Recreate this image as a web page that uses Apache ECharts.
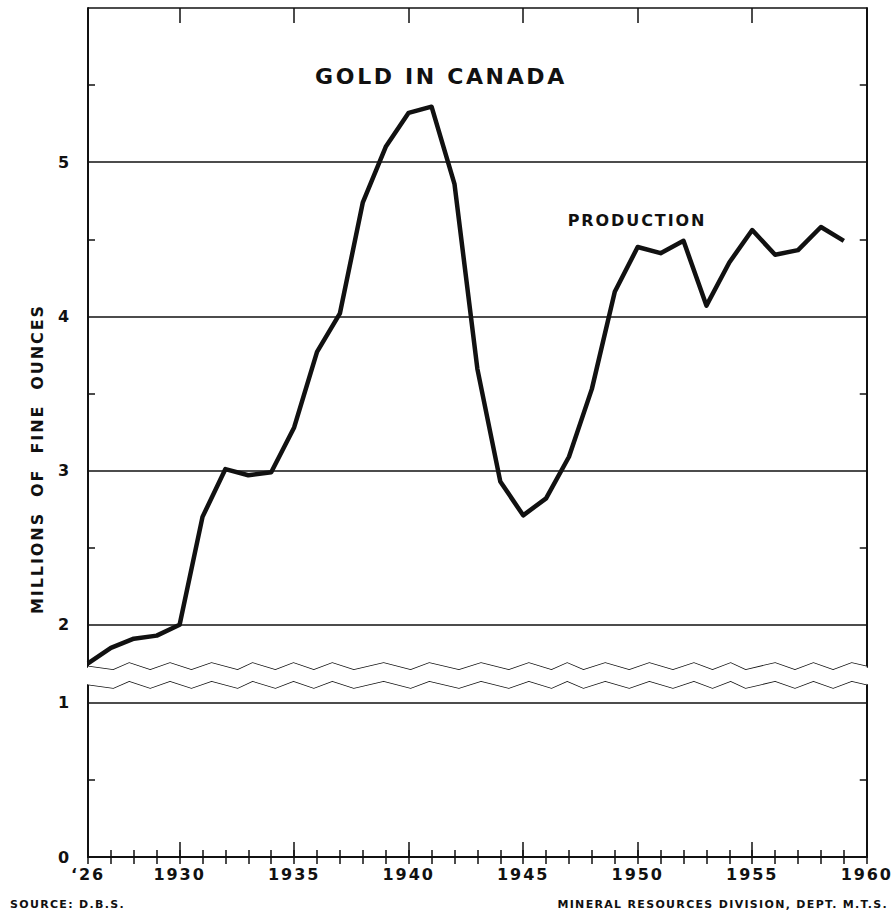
<!DOCTYPE html>
<html>
<head>
<meta charset="utf-8">
<title>Gold in Canada</title>
<script src="https://cdn.jsdelivr.net/npm/echarts@6.0.0/dist/echarts.min.js"></script>
<style>
  html, body { margin: 0; padding: 0; background: #fff; }
  #chart { width: 892px; height: 913px; }
  /* the hand lettering on the original is widely spaced */
  #chart text { letter-spacing: 0.12em; }
</style>
</head>
<body>
<div id="chart"></div>
<script>
var years = [1926, 1927, 1928, 1929, 1930, 1931, 1932, 1933, 1934, 1935,
             1936, 1937, 1938, 1939, 1940, 1941, 1942, 1943, 1944, 1945,
             1946, 1947, 1948, 1949, 1950, 1951, 1952, 1953, 1954, 1955,
             1956, 1957, 1958, 1959];
// millions of fine ounces
var production = [1.75, 1.85, 1.91, 1.93, 2.00, 2.70, 3.01, 2.97, 2.99, 3.28,
                  3.77, 4.02, 4.74, 5.10, 5.32, 5.36, 4.86, 3.66, 2.93, 2.71,
                  2.82, 3.09, 3.53, 4.16, 4.45, 4.41, 4.49, 4.07, 4.35, 4.56,
                  4.40, 4.43, 4.58, 4.49];
var labelYears = [1926, 1930, 1935, 1940, 1945, 1950, 1955, 1960];
var majorYears = [1930, 1935, 1940, 1945, 1950, 1955, 1960];
var yLabels = [0, 1, 2, 3, 4, 5];
var yLines = [0, 1, 2, 3, 4, 5, 6];
var yHalfTicks = [0.5, 2.5, 3.5, 4.5, 5.5];

var allYears = years.concat([1960]);
var ink = '#111';
var font = 'DejaVu Sans';

var myChart = echarts.init(document.getElementById('chart'), null, { renderer: 'svg' });

function xAx(pos, ticks, len, withLine, withLabels) {
    return {
        type: 'value',
        position: pos,
        min: 1926,
        max: 1960,
        axisLine: { show: withLine, lineStyle: { color: ink, width: 2 } },
        axisTick: { show: true, inside: true, length: len, customValues: ticks,
                    lineStyle: { color: ink, width: 1.5 } },
        axisLabel: withLabels ? {
            customValues: labelYears,
            margin: 9,
            color: ink,
            fontFamily: font,
            fontWeight: 'bold',
            fontSize: 16,
            formatter: function (v) { return v === 1926 ? '\u201826' : String(v); }
        } : { show: false },
        splitLine: { show: false }
    };
}

var yBreaks = [{ start: 1.12, end: 1.73, gap: '2.1%' }];

// main: labels + grid lines; otherwise only the half-unit ticks
function yAx(pos, main, withLine) {
    return {
        type: 'value',
        position: pos,
        min: 0,
        max: 6,
        interval: 1,
        breaks: yBreaks,
        breakArea: {
            show: main,
            expandOnClick: false,
            zigzagAmplitude: 3.5,
            zigzagMinSpan: 14,
            zigzagMaxSpan: 30,
            itemStyle: { color: '#fff', borderColor: ink, borderWidth: 1.5, borderType: 'solid', opacity: 1 }
        },
        axisLine: { show: withLine, lineStyle: { color: ink, width: 2 } },
        axisTick: main ? { show: false, customValues: yLines }
                       : { show: true, inside: true, length: 7, customValues: yHalfTicks,
                           lineStyle: { color: ink, width: 1.5 } },
        axisLabel: main ? {
            customValues: yLabels,
            margin: 17,
            color: ink,
            fontFamily: font,
            fontWeight: 'bold',
            fontSize: 16
        } : { show: false },
        splitLine: { show: main, lineStyle: { color: ink, width: 1.5 } }
    };
}

var option = {
    backgroundColor: '#fff',
    animation: false,
    grid: { left: 88, right: 25, top: 8, bottom: 56 },
    xAxis: [
        xAx('bottom', allYears, 7, true, true),
        xAx('bottom', majorYears, 15, false, false),
        xAx('top', allYears, 7, true, false),
        xAx('top', majorYears, 15, false, false)
    ],
    yAxis: [
        yAx('left', true, true),
        yAx('left', false, false),
        yAx('right', false, true)
    ],
    graphic: [
        { type: 'text', x: 441, y: 76, style: { text: 'GOLD IN CANADA', fill: ink,
            font: 'bold 22px "DejaVu Sans"', textAlign: 'center', textVerticalAlign: 'middle' } },
        { type: 'text', x: 637, y: 220, style: { text: 'PRODUCTION', fill: ink,
            font: 'bold 16px "DejaVu Sans"', textAlign: 'center', textVerticalAlign: 'middle' } },
        { type: 'text', x: 37, y: 459, rotation: Math.PI / 2, style: { text: 'MILLIONS  OF  FINE  OUNCES', fill: ink,
            font: 'bold 16px "DejaVu Sans"', textAlign: 'center', textVerticalAlign: 'middle' } },
        { type: 'text', x: 10, y: 904, style: { text: 'SOURCE: D.B.S.', fill: ink,
            font: 'bold 11px "DejaVu Sans"', textAlign: 'left', textVerticalAlign: 'middle' } },
        { type: 'text', x: 888, y: 904, style: { text: 'MINERAL RESOURCES DIVISION, DEPT. M.T.S.', fill: ink,
            font: 'bold 11px "DejaVu Sans"', textAlign: 'right', textVerticalAlign: 'middle' } }
    ],
    series: [
        {
            name: 'Production',
            type: 'line',
            xAxisIndex: 0,
            yAxisIndex: 0,
            showSymbol: false,
            z: 10,
            lineStyle: { color: ink, width: 4.5, join: 'round' },
            data: years.map(function (y, i) { return [y, production[i]]; })
        }
    ]
};

myChart.setOption(option);
</script>
</body>
</html>
